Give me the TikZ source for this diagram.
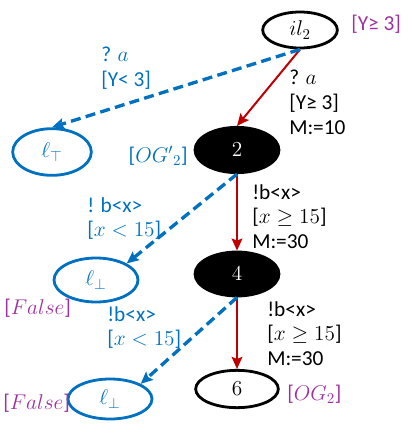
\RequirePackage{fix-cm}
\documentclass[tikz,border=0pt]{standalone}
\usepackage{fontspec}
\setmainfont{Carlito}
\usepackage{tikz}
\usetikzlibrary{positioning,arrows.meta,shapes.geometric}
\definecolor{tblue}{RGB}{0,112,192}
\definecolor{tred}{RGB}{192,0,0}
\definecolor{tpurple}{RGB}{160,48,160}
\tikzset{
  >={Stealth[length=9pt,width=8pt,inset=1.5pt]},
  loc/.style={ellipse,draw=black,line width=2.1pt,inner sep=0pt,
    font=\fontsize{16}{18}\selectfont},
  locblk/.style={loc,fill=black,text=white},
  locerr/.style={loc,draw=tblue,text=tblue},
  okedge/.style={->,tred,line width=1.5pt},
  erredge/.style={->,tblue,line width=2.5pt,dash pattern=on 7.5pt off 4pt},
  trlbl/.style={align=left,anchor=north west,inner sep=0pt,
    font=\fontsize{16}{18.5}\selectfont},
  invlbl/.style={tpurple,inner sep=0pt,font=\fontsize{16}{18}\selectfont},
}
\begin{document}
\begin{tikzpicture}[x=0.75pt,y=-0.75pt]
  \useasboundingbox (0,0) rectangle (410,427);
  % locations
  \node[loc,minimum width=56pt,minimum height=27pt] (il) at (300,30) {$il_2$};
  \node[locerr,minimum width=59pt,minimum height=35pt] (lT) at (52,152) {$\ell_\top$};
  \node[locblk,minimum width=63pt,minimum height=34pt] (n2) at (237,150) {$2$};
  \node[locerr,minimum width=63pt,minimum height=33pt] (lb1) at (96,280) {$\ell_\bot$};
  \node[locblk,minimum width=63pt,minimum height=33pt] (n4) at (237,274) {$4$};
  \node[locerr,minimum width=63pt,minimum height=30pt] (lb2) at (110,399) {$\ell_\bot$};
  \node[loc,minimum width=62pt,minimum height=28pt] (n6) at (237,389) {$6$};
  % invariants
  \node[invlbl,anchor=west] at (351,24) {[Y≥ 3]};
  \node[invlbl,tblue,anchor=east] at (188,156) {[$OG'{}_2$]};
  \node[invlbl,anchor=west] at (4,308) {[$False$]};
  \node[invlbl,anchor=west] at (3,403) {[$False$]};
  \node[invlbl,anchor=west] at (287,394) {[$OG_2$]};
  % transitions
  \draw[okedge] (il.south) -- (n2.north);
  \draw[erredge] (il.south) -- (lT.north);
  \draw[okedge] (n2.south) -- (n4.north);
  \draw[erredge] (n2.south) -- (lb1.north east);
  \draw[okedge] (n4.south) -- (n6.north);
  \draw[erredge] (n4.south) -- (lb2.north east);
  % transition labels
  \node[trlbl,tblue] at (101,47) {? $a$\\ {[Y< 3]}};
  \node[trlbl] at (289,70) {? $a$\\ {[Y≥ 3]}\\ M:=10};
  \node[trlbl] at (252,184) {!b<x>\\ {[$x\geq 15$]}\\ M:=30};
  \node[trlbl,tblue] at (87,197) {! b<x>\\ {[$x<15$]}};
  \node[trlbl,tblue] at (107,306) {!b<x>\\ {[$x<15$]}};
  \node[trlbl] at (267,301) {!b<x>\\ {[$x\geq 15$]}\\ M:=30};
\end{tikzpicture}
\end{document}
